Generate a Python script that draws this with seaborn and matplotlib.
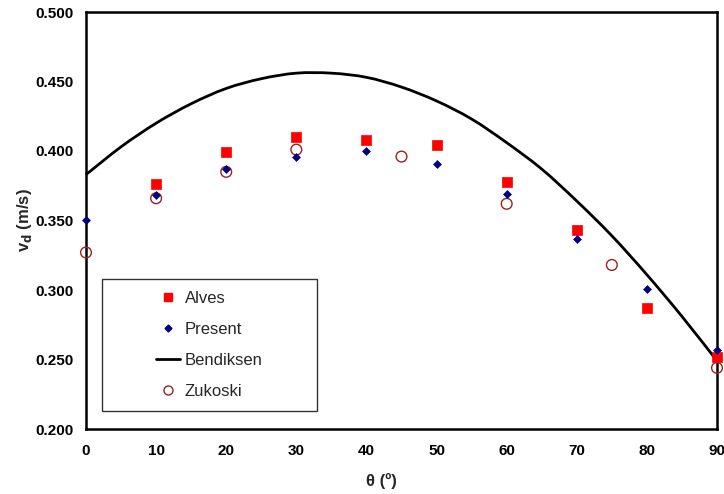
import matplotlib
matplotlib.use("Agg")
import matplotlib.pyplot as plt
from matplotlib.patches import Rectangle, PathPatch
from matplotlib.path import Path
from matplotlib.lines import Line2D
import seaborn as sns
import pandas as pd

# Drift velocity versus pipe inclination
alves_theta = [10, 20, 30, 40, 50, 60, 70, 80, 90]
alves_vd = [0.376, 0.399, 0.410, 0.408, 0.404, 0.378, 0.343, 0.287, 0.252]

present_theta = [0, 10, 20, 30, 40, 50, 60, 70, 80, 90]
present_vd = [0.350, 0.368, 0.387, 0.396, 0.400, 0.391, 0.369, 0.337, 0.301, 0.257]

bendiksen_theta = [0, 5, 10, 15, 20, 25, 30, 35, 40, 45, 50, 55, 60, 65, 70, 75, 80, 85, 90]
bendiksen_vd = [0.383, 0.403, 0.420, 0.434, 0.445, 0.452, 0.456, 0.456, 0.453, 0.446,
                0.436, 0.423, 0.406, 0.387, 0.364, 0.339, 0.311, 0.281, 0.249]

zukoski_theta = [0, 10, 20, 30, 45, 60, 75, 90]
zukoski_vd = [0.327, 0.366, 0.385, 0.401, 0.396, 0.362, 0.318, 0.244]

x_ticks = [0, 10, 20, 30, 40, 50, 60, 70, 80, 90]
y_ticks = [0.200, 0.250, 0.300, 0.350, 0.400, 0.450, 0.500]

sns.set_theme(style="white")
plt.rcParams["font.family"] = ["Liberation Sans", "DejaVu Sans"]

fig = plt.figure(figsize=(7.24, 4.94), dpi=100)
ax = fig.add_axes([86 / 724, 1 - 429 / 494, 631 / 724, 417 / 494])

alves = pd.DataFrame({"theta": alves_theta, "vd": alves_vd})
present = pd.DataFrame({"theta": present_theta, "vd": present_vd})
zuk = pd.DataFrame({"theta": zukoski_theta, "vd": zukoski_vd})


def smooth_path(xs, ys, tension=1 / 6):
    """Cubic Bezier path through the points (Catmull-Rom style smoothing)."""
    verts = [(xs[0], ys[0])]
    codes = [Path.MOVETO]
    n = len(xs)
    for i in range(n - 1):
        x0, y0 = (xs[i - 1], ys[i - 1]) if i > 0 else (xs[i], ys[i])
        x1, y1 = xs[i], ys[i]
        x2, y2 = xs[i + 1], ys[i + 1]
        x3, y3 = (xs[i + 2], ys[i + 2]) if i + 2 < n else (x2, y2)
        c1 = (x1 + (x2 - x0) * tension, y1 + (y2 - y0) * tension)
        c2 = (x2 - (x3 - x1) * tension, y2 - (y3 - y1) * tension)
        verts += [c1, c2, (x2, y2)]
        codes += [Path.CURVE4] * 3
    return Path(verts, codes)


ax.add_patch(PathPatch(smooth_path(bendiksen_theta, bendiksen_vd), facecolor="none",
                       edgecolor="black", linewidth=2.0, zorder=3, clip_on=False))

sns.scatterplot(data=alves, x="theta", y="vd", ax=ax, marker="s", s=42,
                color="#ff0000", edgecolor="#ff0000", linewidth=0.5,
                zorder=5, clip_on=False)
sns.scatterplot(data=present, x="theta", y="vd", ax=ax, marker="D", s=16,
                color="#000080", edgecolor="#000080", linewidth=0.5,
                zorder=6, clip_on=False)
sns.scatterplot(data=zuk, x="theta", y="vd", ax=ax, marker="o", s=60,
                facecolor="none", edgecolor="#992222", linewidth=1.0,
                zorder=4, clip_on=False)

ax.set_xlim(0, 90)
ax.set_ylim(0.2, 0.5)
ax.set_xticks(x_ticks)
ax.set_yticks(y_ticks)
ax.set_yticklabels([f"{v:.3f}" for v in y_ticks])
ax.tick_params(axis="both", direction="in", length=5, width=1.0, color="black",
               labelsize=11, labelcolor="black")
ax.tick_params(axis="y", pad=9)
ax.tick_params(axis="x", pad=11)
for lbl in ax.get_xticklabels() + ax.get_yticklabels():
    lbl.set_fontweight("bold")

for side in ["left", "bottom", "top", "right"]:
    ax.spines[side].set_visible(True)
    ax.spines[side].set_color("black")
    ax.spines[side].set_linewidth(1.8)

ax.set_xlabel("θ (º)", fontsize=12, fontweight="bold")
ax.xaxis.set_label_coords((381 - 86) / 631, -(481 - 429) / 417)
ax.xaxis.label.set_verticalalignment("center")
ax.set_ylabel(r"v$_\mathbf{d}$ (m/s)", fontsize=12, fontweight="bold")
ax.yaxis.set_label_coords(-(86 - 24) / 631, 0.5)
ax.yaxis.label.set_verticalalignment("center")

# legend: wide framed box with centred entries
box_x0, box_y0 = (102 - 86) / 631, (429 - 411) / 417
box_w, box_h = (317 - 102) / 631, (411 - 279) / 417
ax.add_patch(Rectangle((box_x0, box_y0), box_w, box_h, transform=ax.transAxes,
                       facecolor="white", edgecolor="#333333", linewidth=1.0, zorder=7))
handles = [
    Line2D([], [], linestyle="none", marker="s", markersize=5.5,
           color="#ff0000"),
    Line2D([], [], linestyle="none", marker="D", markersize=3.5,
           color="#000080"),
    Line2D([], [], color="black", linewidth=2.0),
    Line2D([], [], linestyle="none", marker="o", markersize=6.5,
           markerfacecolor="none", markeredgecolor="#992222", markeredgewidth=1.0),
]
order = ["Alves", "Present", "Bendiksen", "Zukoski"]
leg = ax.legend(handles, order, loc="center",
                bbox_to_anchor=(box_x0 + box_w / 2, box_y0 + box_h / 2),
                frameon=False, fontsize=12, labelspacing=0.95,
                handlelength=1.4, handletextpad=0.3)
leg.set_zorder(8)

fig.savefig("out.png", dpi=100, facecolor="white")
